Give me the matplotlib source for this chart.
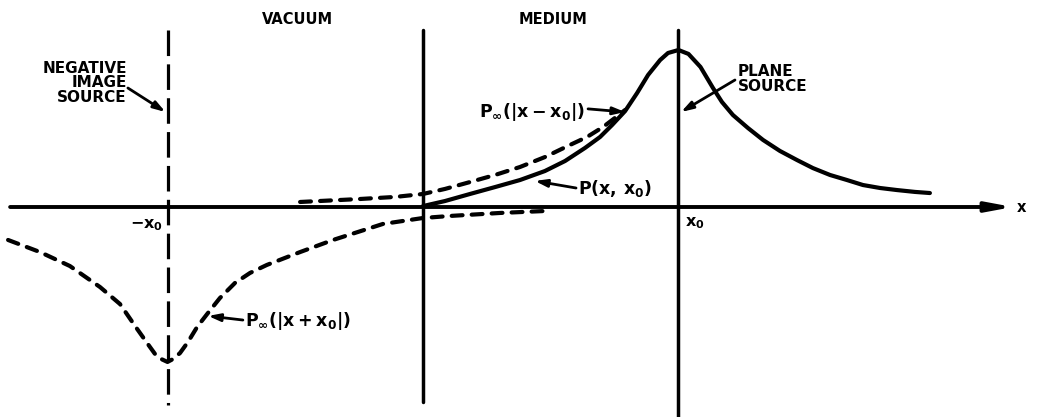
import matplotlib
matplotlib.use("Agg")
import matplotlib.pyplot as plt

# ---- data (x in units of x0, P normalised to the source peak) ----
# P(x, x0): solid curve in the medium
p_x = [0.0, 0.086, 0.184, 0.282, 0.380, 0.477, 0.556, 0.634, 0.693, 0.740, 0.791, 0.838,
       0.881, 0.928, 0.959, 1.0, 1.039, 1.086, 1.135, 1.170, 1.213, 1.272, 1.331, 1.397,
       1.464, 1.526, 1.593, 1.659, 1.722, 1.789, 1.855, 1.926, 1.984]
p_y = [0.006, 0.038, 0.083, 0.127, 0.172, 0.229, 0.293, 0.376, 0.446, 0.522, 0.611, 0.726,
       0.841, 0.936, 0.981, 1.0, 0.975, 0.892, 0.758, 0.669, 0.586, 0.503, 0.427, 0.357,
       0.299, 0.248, 0.204, 0.172, 0.140, 0.121, 0.108, 0.096, 0.089]

# P_inf(|x - x0|): dashed infinite-medium solution (where it departs from P)
pinf_x = [-0.481, -0.247, -0.110, 0.0, 0.086, 0.184, 0.282, 0.380, 0.477, 0.575, 0.642,
          0.705, 0.751, 0.791]
pinf_y = [0.032, 0.051, 0.064, 0.083, 0.115, 0.159, 0.204, 0.255, 0.318, 0.395, 0.446,
          0.510, 0.567, 0.618]

# -P_inf(|x + x0|): dashed negative image
img_x = [-1.624, -1.499, -1.382, -1.264, -1.186, -1.127, -1.080, -1.049, -1.025, -1.0,
         -0.978, -0.951, -0.920, -0.884, -0.845, -0.795, -0.736, -0.677, -0.611, -0.481,
         -0.352, -0.157, 0.0, 0.106, 0.301, 0.485]
img_y = [-0.210, -0.287, -0.376, -0.510, -0.618, -0.758, -0.866, -0.936, -0.968, -0.987,
         -0.968, -0.930, -0.860, -0.764, -0.682, -0.580, -0.484, -0.420, -0.369, -0.287,
         -0.210, -0.108, -0.070, -0.057, -0.038, -0.025]

tick_pos = [-1.0, 1.0]
tick_labels = [r'$\mathbf{-x_0}$', r'$\mathbf{x_0}$']
region_labels = ['VACUUM', 'MEDIUM']

plt.rcParams['font.family'] = ['DejaVu Sans']
plt.rcParams['font.weight'] = 'bold'
plt.rcParams['mathtext.fontset'] = 'dejavusans'

fig = plt.figure(figsize=(10.53, 4.17), dpi=100)
ax = fig.add_axes([0, 0, 1, 1])
ax.set_xlim(-1.6556, 2.4658)
ax.set_ylim(-1.3376, 1.3185)
ax.axis('off')

# vertical lines
ax.plot([-1, -1], [1.127, -1.261], color='black', lw=2.3,
        linestyle=(0, (8.0, 2.6)))
ax.plot([0, 0], [1.127, -1.242], color='black', lw=2.5, solid_capstyle='round')
ax.plot([1, 1], [1.127, -1.40], color='black', lw=2.5, solid_capstyle='round')

# x axis with arrow
ax.annotate('', xy=(2.309, 0), xytext=(-1.616, 0),
            arrowprops=dict(arrowstyle='-|>,head_length=1.5,head_width=0.28',
                            lw=2.8, color='black', shrinkA=0, shrinkB=0))
ax.text(2.325, 0, 'x', fontsize=10.5, fontweight='heavy', ha='left', va='center')

# curves
ax.plot(p_x, p_y, color='black', lw=3.0, solid_capstyle='round', solid_joinstyle='round')
ax.plot(pinf_x, pinf_y, color='black', lw=3.0, linestyle=(0, (2.6, 2.2)),
        dash_capstyle='round', dash_joinstyle='round')
ax.plot(img_x, img_y, color='black', lw=3.0, linestyle=(0, (2.6, 2.2)),
        dash_capstyle='round', dash_joinstyle='round')

# tick labels
ax.text(tick_pos[0] - 0.018, -0.115, tick_labels[0], fontsize=11.5, ha='right', va='center')
ax.text(tick_pos[1] + 0.025, -0.105, tick_labels[1], fontsize=11.5, ha='left', va='center')

# region labels
ax.text(-0.493, 1.197, region_labels[0], fontsize=10.5, fontweight='heavy', ha='center', va='center')
ax.text(0.509, 1.197, region_labels[1], fontsize=10.5, fontweight='heavy', ha='center', va='center')

arrow_kw = dict(arrowstyle='-|>,head_length=0.7,head_width=0.22', lw=2.0,
                color='black', shrinkA=0, shrinkB=0)

# annotations
ax.text(-1.159, 0.79, 'NEGATIVE\nIMAGE\nSOURCE', fontsize=11, fontweight='heavy',
        ha='right', va='center', multialignment='right', linespacing=0.95)
ax.annotate('', xy=(-1.008, 0.605), xytext=(-1.155, 0.758), arrowprops=arrow_kw)

ax.text(1.233, 0.815, 'PLANE\nSOURCE', fontsize=11, fontweight='heavy',
        ha='left', va='center', multialignment='left', linespacing=0.95)
ax.annotate('', xy=(1.010, 0.605), xytext=(1.221, 0.809), arrowprops=arrow_kw)

ax.text(0.634, 0.605, r'$\mathbf{P_{\infty}(|x - x_0|)}$', fontsize=12.5,
        ha='right', va='center')
ax.annotate('', xy=(0.791, 0.605), xytext=(0.646, 0.625), arrowprops=arrow_kw)

ax.text(0.607, 0.121, r'$\mathbf{P(x,\, x_0)}$', fontsize=12.5, ha='left', va='center')
ax.annotate('', xy=(0.438, 0.166), xytext=(0.599, 0.121), arrowprops=arrow_kw)

ax.text(-0.697, -0.726, r'$\mathbf{P_{\infty}(|x + x_0|)}$', fontsize=12.5,
        ha='left', va='center')
ax.annotate('', xy=(-0.841, -0.694), xytext=(-0.705, -0.720), arrowprops=arrow_kw)

fig.savefig('out.png', dpi=100, facecolor='white')
